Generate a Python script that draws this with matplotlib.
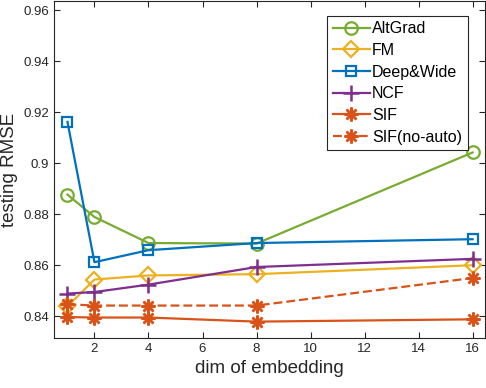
import matplotlib
matplotlib.use('Agg')
import matplotlib.pyplot as plt
from matplotlib.ticker import FuncFormatter

plt.rcParams['font.family'] = ['Liberation Sans', 'DejaVu Sans']

# embedding dimensions and RMSE per method
dims = [1, 2, 4, 8, 16]
altgrad = [0.8877, 0.8789, 0.8687, 0.8685, 0.9042]
fm = [0.8439, 0.8544, 0.8560, 0.8565, 0.8600]
deepwide = [0.9162, 0.8612, 0.8659, 0.8687, 0.8702]
ncf = [0.8489, 0.8495, 0.8524, 0.8593, 0.8625]
sif = [0.8397, 0.8395, 0.8395, 0.8379, 0.8388]
sif_noauto = [0.8447, 0.8442, 0.8442, 0.8442, 0.8550]

fig = plt.figure(figsize=(4.86, 3.88), dpi=100)
ax = fig.add_axes([0.111, 0.129, 0.887, 0.868])

lw = 1.6
ax.plot(dims, altgrad, color='#77AC30', marker='o', ms=9, mfc='none', mew=1.6, lw=lw, label='AltGrad')
ax.plot(dims, fm, color='#EDB120', marker='D', ms=8, mfc='none', mew=1.6, lw=lw, label='FM')
ax.plot(dims, deepwide, color='#0072BD', marker='s', ms=7.3, mfc='none', mew=1.6, lw=lw, label='Deep&Wide')
ax.plot(dims, ncf, color='#7E2F8E', marker='+', ms=11, mew=1.8, lw=lw, label='NCF')
ax.plot(dims, sif, color='#D95319', marker=(8, 2, 0), ms=10, mew=1.8, lw=lw, label='SIF')
ax.plot(dims, sif_noauto, color='#D95319', marker=(8, 2, 0), ms=10, mew=1.8, lw=lw,
        ls=(0, (4, 1.8)), label='SIF(no-auto)')

ax.set_xlim(0.5, 16.46)
ax.set_ylim(0.8315, 0.9635)
ax.set_xticks([2, 4, 6, 8, 10, 12, 14, 16])
ax.set_yticks([0.84, 0.86, 0.88, 0.9, 0.92, 0.94, 0.96])
ax.yaxis.set_major_formatter(FuncFormatter(lambda v, p: f'{v:g}'))
ax.tick_params(direction='in', top=True, right=True, labelsize=9.5, colors='#262626',
               length=4, width=0.8)
for s in ax.spines.values():
    s.set_color('#262626')
    s.set_linewidth(0.8)

ax.set_xlabel('dim of embedding', fontsize=13.5, color='#262626')
ax.set_ylabel('testing RMSE', fontsize=13.5, color='#262626')

leg = ax.legend(loc='upper right', fontsize=11.5, frameon=True, fancybox=False,
                edgecolor='#262626', handlelength=2.3, handletextpad=0.15,
                borderpad=0.35, labelspacing=0.42, borderaxespad=0.9, framealpha=1,
                bbox_to_anchor=(0.993, 1.0))
leg.get_frame().set_linewidth(0.8)

fig.savefig('out.png', dpi=100)
